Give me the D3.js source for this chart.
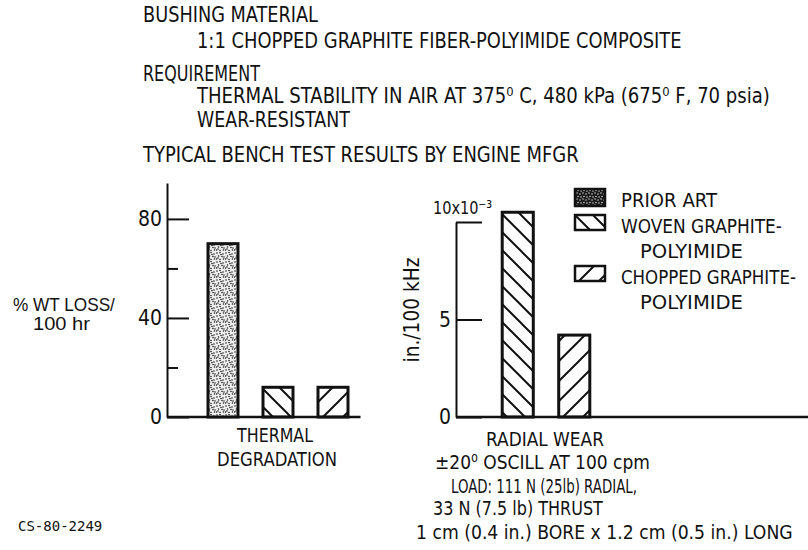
<!DOCTYPE html>
<html>
<head>
<meta charset="utf-8">
<script src="https://cdn.jsdelivr.net/npm/d3@7/dist/d3.min.js"></script>
<style>
  html, body { margin: 0; padding: 0; background: #fff; }
  svg { display: block; }
  text { fill: #111; }
</style>
</head>
<body>
<svg id="chart" width="808" height="550"></svg>
<script>
// ---------- DATA ----------
const categories = ["THERMAL DEGRADATION", "RADIAL WEAR"];
const seriesKeys = ["prior", "woven", "chopped"];
const seriesNames = ["PRIOR ART", "WOVEN GRAPHITE-POLYIMIDE", "CHOPPED GRAPHITE-POLYIMIDE"];
const thermalLoss = [70, 12, 12];          // % WT LOSS / 100 hr
const radialWear = [null, 10.5, 4.2];      // in./100 kHz (x10^-3)
const thermalMajorTicks = [0, 40, 80];
const thermalMinorTicks = [20, 60];
const wearTicks = [0, 5, 10];
const wearTickLabels = ["0", "5", "10x10\u207B\u00B3"];

// ---------- SETUP ----------
const svg = d3.select("#chart");
const NARROW = "'Liberation Sans Narrow', 'DejaVu Sans Condensed', 'Arial Narrow', sans-serif";
const SANS = "'Liberation Sans', Arial, sans-serif";

const defs = svg.append("defs");
// stipple pattern (prior art)
const st = defs.append("pattern").attr("id", "stipple").attr("patternUnits", "userSpaceOnUse")
  .attr("width", 9).attr("height", 9);
st.append("rect").attr("width", 9).attr("height", 9).attr("fill", "#eeeeee");
[[1,1],[4,0.5],[7,2],[2.5,4],[6,4.5],[0.5,7],[4,7.5],[7.5,7],[5,2.5],[2,6],[8,5]].forEach(p =>
  st.append("circle").attr("cx", p[0]).attr("cy", p[1]).attr("r", 0.8).attr("fill", "#222"));
// dense stipple for legend swatch
const sd = defs.append("pattern").attr("id", "stippleDense").attr("patternUnits", "userSpaceOnUse")
  .attr("width", 6).attr("height", 6);
sd.append("rect").attr("width", 6).attr("height", 6).attr("fill", "#1a1a1a");
[[1,1],[4,2],[2,4.5],[5,5]].forEach(p =>
  sd.append("circle").attr("cx", p[0]).attr("cy", p[1]).attr("r", 0.7).attr("fill", "#eee"));
// woven: "\" hatch
const hw = defs.append("pattern").attr("id", "hatchBack").attr("patternUnits", "userSpaceOnUse")
  .attr("width", 18).attr("height", 18);
hw.append("path").attr("d", "M0,0L18,18M-9,9L9,27M9,-9L27,9").attr("stroke", "#111").attr("stroke-width", 2);
// chopped: "/" hatch
const hc = defs.append("pattern").attr("id", "hatchFwd").attr("patternUnits", "userSpaceOnUse")
  .attr("width", 20).attr("height", 20);
hc.append("path").attr("d", "M0,20L20,0M-10,10L10,-10M10,30L30,10").attr("stroke", "#111").attr("stroke-width", 2);

const fills = { prior: "url(#stipple)", woven: "url(#hatchBack)", chopped: "url(#hatchFwd)" };
const legendFills = { prior: "url(#stippleDense)", woven: "url(#hatchBack)", chopped: "url(#hatchFwd)" };

// ---------- TEXT HELPERS ----------
// fit a text element horizontally to a target width (keeps glyph height)
function fitWidth(t, len, x0) {
  const w = t.node().getComputedTextLength();
  if (w > 0 && len) {
    const sx = len / w;
    t.attr("transform", `translate(${x0},0) scale(${sx},1) translate(${-x0},0)`);
  }
  return t;
}
function addText(x, y, str, opts) {
  const t = svg.append("text").attr("x", x).attr("y", y)
    .attr("font-family", opts.font || NARROW).attr("font-size", opts.size || 21)
    .attr("text-anchor", opts.anchor || "start")
    .text(str);
  if (opts.len) fitWidth(t, opts.len, x);
  return t;
}

// ---------- HEADER TEXT ----------
addText(143, 22, "BUSHING MATERIAL", { len: 175 });
addText(197, 48, "1:1 CHOPPED GRAPHITE FIBER-POLYIMIDE COMPOSITE", { len: 485 });
addText(143, 81, "REQUIREMENT", { len: 117 });
addText(197, 103, "THERMAL STABILITY IN AIR AT 375\u2070 C, 480 kPa  (675\u2070 F, 70 psia)", { len: 573 });
addText(197, 127, "WEAR-RESISTANT", { len: 153 });
addText(143, 162, "TYPICAL BENCH TEST RESULTS BY ENGINE MFGR", { len: 436 });

// ---------- LEFT PANEL: THERMAL DEGRADATION ----------
const yL = d3.scaleLinear().domain([0, 94.5]).range([417, 183]);
const xL = d3.scaleBand().domain(seriesKeys).range([195.5, 360.5]).paddingInner(0.4545).paddingOuter(0.2273);
const axisLX = 167;

const gL = svg.append("g");
const axL = gL.append("g").attr("transform", `translate(${axisLX},0)`)
  .call(d3.axisLeft(yL).tickValues(thermalMajorTicks).tickSizeInner(-22).tickSizeOuter(0).tickPadding(5));
axL.selectAll("text").attr("font-family", NARROW).attr("font-size", 21).attr("fill", "#111");
axL.selectAll("line,path").attr("stroke", "#111").attr("stroke-width", 2);
const axLm = gL.append("g").attr("transform", `translate(${axisLX},0)`)
  .call(d3.axisLeft(yL).tickValues(thermalMinorTicks).tickSizeInner(-11).tickSizeOuter(0).tickFormat(""));
axLm.select(".domain").remove();
axLm.selectAll("line").attr("stroke", "#111").attr("stroke-width", 2);

gL.append("line").attr("x1", axisLX).attr("x2", xL.range()[1]).attr("y1", yL(0)).attr("y2", yL(0))
  .attr("stroke", "#111").attr("stroke-width", 2.5);

gL.selectAll("rect.bar").data(seriesKeys.map((k, i) => ({ k, v: thermalLoss[i] })))
  .join("rect").attr("class", "bar")
  .attr("x", d => xL(d.k)).attr("width", xL.bandwidth())
  .attr("y", d => yL(d.v)).attr("height", d => yL(0) - yL(d.v))
  .attr("fill", d => fills[d.k]).attr("stroke", "#111").attr("stroke-width", 3);

// left y label
addText(13, 311, "% WT LOSS/", { font: SANS, size: 18, len: 102 });
addText(33, 330, "100 hr", { font: SANS, size: 18, len: 57 });

// category label
const cxL = (xL.range()[0] + xL.range()[1]) / 2;
const catL = categories[0].split(" ");
addText(cxL - 3, 442, catL[0], { anchor: "middle", size: 20, len: 76 });
addText(cxL - 1, 466, catL[1], { anchor: "middle", size: 20, len: 120 });

// ---------- RIGHT PANEL: RADIAL WEAR ----------
const yR = d3.scaleLinear().domain([0, 10]).range([417, 222]);
const wearKeys = seriesKeys.filter((k, i) => radialWear[i] !== null);
const xR = d3.scaleBand().domain(wearKeys).range([489.5, 602.5]).paddingInner(0.45).paddingOuter(0.225);
const axisRX = 456;

const gR = svg.append("g");
const axR = gR.append("g").attr("transform", `translate(${axisRX},0)`)
  .call(d3.axisLeft(yR).tickValues(wearTicks).tickSizeInner(-26).tickSizeOuter(0).tickPadding(5)
    .tickFormat((d, i) => wearTickLabels[i]));
axR.selectAll("text").attr("font-family", NARROW).attr("font-size", 21).attr("fill", "#111");
axR.selectAll("line,path").attr("stroke", "#111").attr("stroke-width", 2);
// top tick label sits above its tick
const topTxt = axR.selectAll(".tick").filter(d => d === 10).select("text")
  .attr("x", -23).attr("dy", 0).attr("y", -9).attr("text-anchor", "start").attr("font-size", 18);
fitWidth(topTxt, 59, -23);

gR.append("line").attr("x1", axisRX).attr("x2", 808).attr("y1", yR(0)).attr("y2", yR(0))
  .attr("stroke", "#111").attr("stroke-width", 2.5);

gR.selectAll("rect.bar").data(seriesKeys.map((k, i) => ({ k, v: radialWear[i] })).filter(d => d.v !== null))
  .join("rect").attr("class", "bar")
  .attr("x", d => xR(d.k)).attr("width", xR.bandwidth())
  .attr("y", d => yR(d.v)).attr("height", d => yR(0) - yR(d.v))
  .attr("fill", d => fills[d.k]).attr("stroke", "#111").attr("stroke-width", 3);

// right y label (rotated)
svg.append("text").attr("transform", "translate(419,310) rotate(-90)")
  .attr("text-anchor", "middle").attr("font-family", NARROW).attr("font-size", 21)
  .attr("textLength", 105).attr("lengthAdjust", "spacingAndGlyphs")
  .text("in./100 kHz");

const cxR = (xR.range()[0] + xR.range()[1]) / 2;
addText(cxR - 1, 446, categories[1], { anchor: "middle", size: 20, len: 118 });
addText(435, 469, "\u00B120\u2070 OSCILL AT 100 cpm", { size: 20, len: 215 });
addText(451, 493, "LOAD: 111 N (25lb) RADIAL,", { size: 20, len: 186 });
addText(433, 515, "33 N (7.5 lb) THRUST", { size: 20, len: 170 });
addText(416, 539, "1 cm (0.4 in.) BORE x 1.2 cm (0.5 in.) LONG", { size: 20, len: 377 });

// ---------- LEGEND ----------
const legRowY = [189, 215, 266];
const legSwH = [17, 15, 15];
const leg = svg.append("g");
seriesKeys.forEach((k, i) => {
  leg.append("rect").attr("x", 575).attr("y", legRowY[i]).attr("width", 30).attr("height", legSwH[i])
    .attr("fill", legendFills[k]).attr("stroke", "#111").attr("stroke-width", 2.5);
  const parts = seriesNames[i].split("-");
  const lines = parts.length > 1 ? [parts[0] + "-", parts.slice(1).join("-")] : parts;
  lines.forEach((ln, j) => {
    const lx = j === 0 ? 621 : 640;
    const t = leg.append("text").attr("x", lx).attr("y", legRowY[i] + 18 + j * 25)
      .attr("font-family", NARROW).attr("font-size", 19)
      .text(ln);
    fitWidth(t, j === 0 ? (lines.length > 1 ? (i === 1 ? 161 : 175) : 96) : 103, lx);
  });
});

// ---------- FIGURE ID ----------
svg.append("text").attr("x", 18).attr("y", 531)
  .attr("font-family", "'DejaVu Sans Mono', 'Liberation Mono', monospace").attr("font-size", 14)
  .text("CS-80-2249");
</script>
</body>
</html>
